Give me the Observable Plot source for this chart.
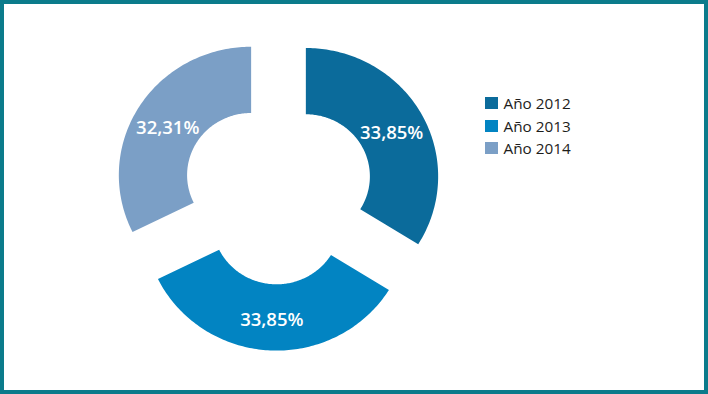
<!DOCTYPE html>
<html>
<head>
<meta charset="utf-8">
<script src="https://cdn.jsdelivr.net/npm/d3@7"></script>
<script src="https://cdn.jsdelivr.net/npm/@observablehq/plot@0.6"></script>
<style>
  html, body { margin: 0; padding: 0; background: #ffffff; }
  #wrap { position: relative; width: 708px; height: 394px; overflow: hidden; background: #fff; }
  #frame { position: absolute; left: 0; top: 0; width: 708px; height: 394px; box-sizing: border-box; border: 4px solid #0b7b8b; pointer-events: none; }
  #chart { position: absolute; left: 0; top: 0; }
  #legend { position: absolute; left: 485px; top: 91.5px; font-family: "Open Sans", sans-serif; font-size: 15.3px; color: #1d1d1b; }
  .row { display: flex; align-items: center; height: 22.7px; }
  .sw { width: 12.5px; height: 12px; margin-right: 6px; }
</style>
</head>
<body>
<div id="wrap">
  <div id="chart"></div>
  <div id="legend"></div>
  <div id="frame"></div>
</div>
<script>
// Data
const years = ["Año 2012", "Año 2013", "Año 2014"];
const shares = [33.85, 33.85, 32.31];
const shareLabels = ["33,85%", "33,85%", "32,31%"];
const palette = ["#0b6b9b", "#0284c2", "#7b9fc6"];

// Donut geometry (unit space: outer radius = 1)
const inner = 0.484;
const explode = 0.24;
const total = d3.sum(shares);
const rad = (a) => a * Math.PI / 180;

const slices = [];
let acc = 0;
years.forEach((year, i) => {
  const a0 = acc / total * 360;
  acc += shares[i];
  const a1 = acc / total * 360;
  const am = (a0 + a1) / 2;
  slices.push({year, a0, a1, am, label: shareLabels[i],
    ox: explode * Math.sin(rad(am)), oy: explode * Math.cos(rad(am))});
});

const pts = [];
for (const s of slices) {
  const n = Math.ceil(s.a1 - s.a0);
  for (let k = 0; k <= n; k++) {
    const a = s.a0 + (s.a1 - s.a0) * k / n;
    pts.push({year: s.year, x: s.ox + Math.sin(rad(a)), y: s.oy + Math.cos(rad(a))});
  }
  for (let k = n; k >= 0; k--) {
    const a = s.a0 + (s.a1 - s.a0) * k / n;
    pts.push({year: s.year, x: s.ox + inner * Math.sin(rad(a)), y: s.oy + inner * Math.cos(rad(a))});
  }
}

const mid = (1 + inner) / 2;
const labelData = slices.map(s => ({
  text: s.label,
  x: s.ox + mid * Math.sin(rad(s.am)),
  y: s.oy + mid * Math.cos(rad(s.am))
}));

const cx = 277.6, cy = 190.9, Rx = 132.3, Ry = 128.4;

const plot = Plot.plot({
  width: 708,
  height: 394,
  margin: 0,
  x: {domain: [-1, 1], range: [cx - Rx, cx + Rx], axis: null},
  y: {domain: [-1, 1], range: [cy + Ry, cy - Ry], axis: null},
  color: {domain: years, range: palette},
  style: {background: "transparent"},
  marks: [
    Plot.line(pts, {x: "x", y: "y", z: "year", fill: "year", stroke: null, curve: "linear-closed"}),
    Plot.text(labelData, {x: "x", y: "y", text: "text", dy: 3, fill: "white", fontSize: 18.5, fontWeight: 600, fontFamily: "Open Sans, sans-serif"})
  ]
});
document.getElementById("chart").appendChild(plot);

const legend = document.getElementById("legend");
years.forEach((y, i) => {
  const row = document.createElement("div");
  row.className = "row";
  const sw = document.createElement("div");
  sw.className = "sw";
  sw.style.background = palette[i];
  const t = document.createElement("span");
  t.textContent = y;
  row.appendChild(sw);
  row.appendChild(t);
  legend.appendChild(row);
});
</script>
</body>
</html>
